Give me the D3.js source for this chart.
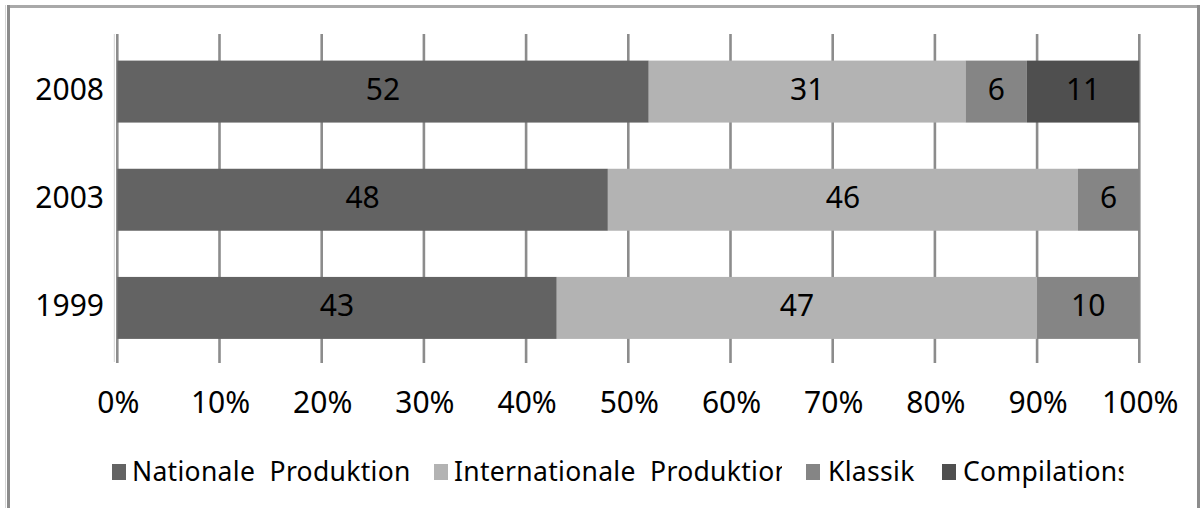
<!DOCTYPE html>
<html>
<head>
<meta charset="utf-8">
<script src="https://cdn.jsdelivr.net/npm/d3@7"></script>
<style>
  html, body { margin: 0; padding: 0; background: #fff; }
  svg { display: block; }
  text { font-family: "Noto Sans", "DejaVu Sans", sans-serif; fill: #000; }
</style>
</head>
<body>
<svg id="chart" width="1201" height="508"></svg>
<script>
// Music sales share by repertoire (percent), per year
const years = ["2008", "2003", "1999"];
const seriesNames = ["Nationale  Produktion", "Internationale  Produktion", "Klassik", "Compilations"];
const nationale = [52, 48, 43];
const internationale = [31, 46, 47];
const klassik = [6, 6, 10];
const compilations = [11, 0, 0];
const tickValues = [0, 10, 20, 30, 40, 50, 60, 70, 80, 90, 100];

const colors = ["#636363", "#b3b3b3", "#858585", "#4f4f4f"];

const rows = years.map((y, i) => ({
  year: y,
  "Nationale  Produktion": nationale[i],
  "Internationale  Produktion": internationale[i],
  "Klassik": klassik[i],
  "Compilations": compilations[i]
}));

const stacked = d3.stack().keys(seriesNames)(rows);

const svg = d3.select("#chart");

// outer frame
svg.append("line").attr("x1", 7).attr("x2", 1199).attr("y1", 6.5).attr("y2", 6.5)
  .attr("stroke", "#a9a9a9").attr("stroke-width", 3);
svg.append("line").attr("x1", 5.5).attr("x2", 5.5).attr("y1", 5).attr("y2", 508)
  .attr("stroke", "#d6d6d6").attr("stroke-width", 1);
svg.append("line").attr("x1", 8.5).attr("x2", 8.5).attr("y1", 5).attr("y2", 508)
  .attr("stroke", "#8c8c8c").attr("stroke-width", 3);
svg.append("line").attr("x1", 1198.5).attr("x2", 1198.5).attr("y1", 5).attr("y2", 508)
  .attr("stroke", "#8c8c8c").attr("stroke-width", 3);

const x = d3.scaleLinear().domain([0, 100]).range([117.3, 1139.3]);
const y = d3.scaleBand().domain(years).range([37.5, 362])
  .paddingInner(0.427).paddingOuter(0.2135);

const gridTop = 34, gridBottom = 363;

// vertical gridlines
svg.append("g").selectAll("line").data(tickValues).join("line")
  .attr("x1", d => x(d)).attr("x2", d => x(d))
  .attr("y1", gridTop).attr("y2", gridBottom)
  .attr("stroke", "#8c8c8c").attr("stroke-width", 2.6);

// light edge beside the category axis
svg.append("line").attr("x1", x(0) - 3).attr("x2", x(0) - 3)
  .attr("y1", gridTop).attr("y2", gridBottom - 1)
  .attr("stroke", "#d2d2d2").attr("stroke-width", 1);

// stacked bars
const layers = svg.append("g").selectAll("g").data(stacked).join("g")
  .attr("fill", (d, i) => colors[i]);

layers.selectAll("rect").data(d => d.filter(s => s[1] - s[0] > 0)).join("rect")
  .attr("x", d => x(d[0]))
  .attr("width", d => x(d[1]) - x(d[0]))
  .attr("y", d => y(d.data.year))
  .attr("height", y.bandwidth());

// value labels
layers.each(function (layer) {
  d3.select(this).selectAll("text").data(layer.filter(s => s[1] - s[0] > 0)).join("text")
    .attr("x", d => (x(d[0]) + x(d[1])) / 2)
    .attr("y", d => y(d.data.year) + y.bandwidth() / 2 + 8)
    .attr("text-anchor", "middle")
    .attr("font-size", 30)
    .attr("fill", "#000")
    .text(d => d[1] - d[0]);
});

// category axis labels
svg.append("g").selectAll("text").data(years).join("text")
  .attr("x", 104)
  .attr("y", d => y(d) + y.bandwidth() / 2 + 8)
  .attr("text-anchor", "end")
  .attr("font-size", 30)
  .text(d => d);

// percentage axis labels
const fmt = d => d + "%";
svg.append("g").selectAll("text").data(tickValues).join("text")
  .attr("x", d => x(d) + 1)
  .attr("y", 413)
  .attr("text-anchor", "middle")
  .attr("font-size", 30)
  .text(fmt);

// legend: entries 2 and 4 are cut off partway through their last letter
const legendSquareX = [112, 434, 806, 942];
const legendTextX = [132, 454, 828, 963];
const legendTruncated = [false, true, false, true];

const defs = svg.append("defs");
const legend = svg.append("g");
seriesNames.forEach((name, i) => {
  legend.append("rect")
    .attr("x", legendSquareX[i]).attr("y", 464)
    .attr("width", 14).attr("height", 16)
    .attr("fill", colors[i]);
  const t = legend.append("text")
    .attr("x", legendTextX[i]).attr("y", 480.5)
    .attr("font-size", 26.5)
    .attr("letter-spacing", 0.3)
    .style("white-space", "pre")
    .text(name);
  if (legendTruncated[i]) {
    const node = t.node();
    const n = name.length;
    const head = node.getSubStringLength(0, n - 1);
    const last = node.getSubStringLength(n - 1, 1);
    const right = legendTextX[i] + head + last * 0.45;
    defs.append("clipPath").attr("id", "legclip" + i)
      .append("rect").attr("x", legendTextX[i] - 2).attr("y", 440)
      .attr("width", right - legendTextX[i] + 2).attr("height", 60);
    t.attr("clip-path", "url(#legclip" + i + ")");
  }
});
</script>
</body>
</html>
